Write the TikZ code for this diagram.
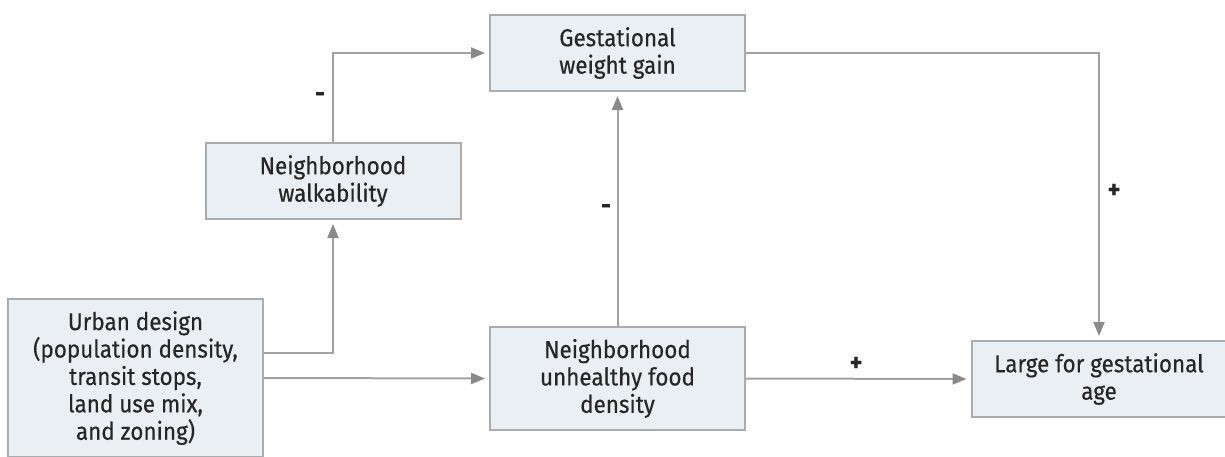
\documentclass[tikz,border=0pt]{standalone}
\usepackage{fontspec}
\setmainfont{Fira Sans}[FakeStretch=0.92,FakeBold=0.45]
\usetikzlibrary{arrows.meta}
\definecolor{boxfill}{HTML}{E9EFF3}
\definecolor{boxline}{HTML}{A9ADB0}
\definecolor{linkgray}{HTML}{A3A3A3}
\definecolor{tipgray}{HTML}{8A8A8A}
\definecolor{inkgray}{HTML}{262626}

\begin{document}
\begin{tikzpicture}[x=.5pt,y=-.5pt,
  box/.style={draw=boxline,fill=boxfill,line width=1pt,inner sep=0pt,
    align=center,text=inkgray,font=\fontsize{12.2}{13.7}\selectfont,
    minimum width=127.5pt},
  link/.style={draw=linkgray,line width=1pt,shorten >=2pt,
    -{Triangle[length=7pt,width=5.5pt,color=tipgray]}},
  sign/.style={text=inkgray,font=\fontsize{13}{14}\selectfont\bfseries}]
  \useasboundingbox (0,0) rectangle (1225,456);

  % boxes
  \node[box,minimum height=38pt] (gwg) at (617.5,53) {Gestational\\weight gain};
  \node[box,minimum height=38pt] (walk) at (333,181) {Neighborhood\\walkability};
  \node[box,minimum height=79pt] (urban) at (135.5,378)
    {Urban design\\(population density,\\transit stops,\\land use mix,\\and zoning)};
  \node[box,minimum height=51.5pt] (food) at (617.5,378.5)
    {Neighborhood\\unhealthy food\\density};
  \node[box,minimum height=38pt] (lga) at (1099,379) {Large for gestational\\age};

  % paths
  \draw[link] (urban.east) -- (food.west);
  \draw[link] ([yshift=12.5pt]urban.east) -| (walk.south);
  \draw[link] (walk.north) |- (gwg.west);
  \draw[link] (food.north) -- (gwg.south);
  \draw[link] (gwg.east) -| (lga.north);
  \draw[link] (food.east) -- (lga.west);

  % signs
  \node[sign] (walksign) at (320,97) {-};
  \node[sign] (foodsign) at (606,209) {-};
  \node[sign] (lgasign) at (856,364) {+};
  \node[sign] (gwgsign) at (1114,191) {+};
\end{tikzpicture}
\end{document}
